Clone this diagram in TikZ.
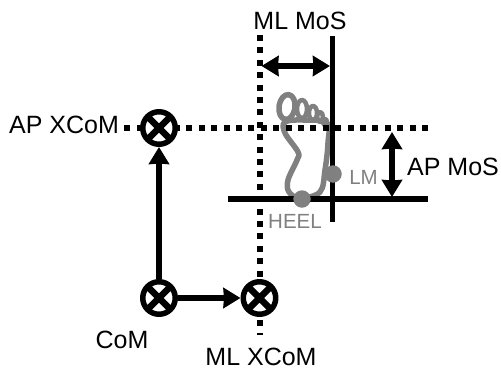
\documentclass[tikz,border=0pt]{standalone}
\usepackage{fontspec}
\setmainfont{Liberation Sans}
\usetikzlibrary{arrows.meta}
\colorlet{footgray}{black!50}
\tikzset{
	commark/.style={circle, draw=black, fill=white, line width=5.5pt, minimum size=32.5pt, inner sep=0pt,
		path picture={\draw[line width=6.5pt] (path picture bounding box.north west) -- (path picture bounding box.south east) (path picture bounding box.north east) -- (path picture bounding box.south west);}},
	dotline/.style={line width=6pt, dash pattern=on 6pt off 6.4pt},
	solidline/.style={line width=5.7pt},
	bigarrow/.style={line width=5.7pt, {Stealth[length=17pt,width=20pt,inset=0.5pt]}-{Stealth[length=17pt,width=20pt,inset=0.5pt]}},
	onearrow/.style={line width=6pt, -{Stealth[length=17pt,width=20pt,inset=0.5pt]}},
	biglabel/.style={font=\fontsize{25}{25}\selectfont, inner sep=0pt},
	smalllabel/.style={font=\fontsize{20.5}{20.5}\selectfont, inner sep=0pt, text=footgray},
	footdot/.style={circle, fill=footgray, minimum size=17.5pt, inner sep=0pt},
}
\begin{document}
\begin{tikzpicture}[x=1pt, y=-1pt, line join=round]
	\useasboundingbox (0,0) rectangle (501,369);
	% foot
	\draw[footgray, line width=5.5pt] plot[smooth cycle, tension=0.6] coordinates {(285,122) (285,133) (298,152) (297,160) (288,180) (289,192) (300,198) (320,192) (325,170) (328,143) (327,123) (303,120)};
	\draw[footgray, line width=5.5pt, rotate around={-8:(287,107)}] (287,107) ellipse (8 and 12.5);
	\foreach \x/\y/\rx/\ry in {302/109/5/9, 313/113/4/7, 320/117/3/5, 325/122/2/3} {
		\draw[footgray, line width=4.5pt] (\x,\y) ellipse (\rx pt and \ry pt);
	}
	% lines
	\coordinate (MLtop) at (259.5,35);
	\coordinate (MLbot) at (259.5,335);
	\coordinate (APright) at (428,127.5);
	\coordinate (APleft) at (124,127.5);
	\coordinate (BOSleft) at (228,199);
	\coordinate (BOSright) at (428,199);
	\coordinate (LMtop) at (332.5,36);
	\coordinate (LMbot) at (332.5,222);
	\draw[dotline] (MLtop) -- (MLbot);
	\draw[dotline] (APright) -- (APleft);
	\draw[solidline] (LMtop) -- (LMbot);
	\draw[solidline] (BOSleft) -- (BOSright);
	\node[commark] (APX) at (159,128) {};
	\node[commark] (COM) at (159,298) {};
	\node[commark] (MLX) at (259.5,298) {};
	% arrows
	\coordinate (MLa) at (261.5,66);
	\coordinate (MLb) at (330,66);
	\coordinate (APa) at (392,132);
	\coordinate (APb) at (392,197);
	\draw[bigarrow] (MLa) -- (MLb);
	\draw[bigarrow] (APa) -- (APb);
	\draw[onearrow] (COM) -- (APX);
	\draw[onearrow] (COM) -- (MLX);
	% gray points
	\node[footdot] (HEELpt) at (302,199) {};
	\node[footdot] (LMpt) at (333,174) {};
	% labels
	\node[biglabel] (lblMLMoS) at (300,21) {ML MoS};
	\node[biglabel] (lblAPX) at (64,125) {AP XCoM};
	\node[biglabel] (lblAPMoS) at (453,167) {AP MoS};
	\node[biglabel] (lblCOM) at (122,340) {CoM};
	\node[biglabel] (lblMLX) at (261,356.5) {ML XCoM};
	\node[smalllabel] (lblHEEL) at (295,221) {HEEL};
	\node[smalllabel] (lblLM) at (363.5,177) {LM};
\end{tikzpicture}
\end{document}
